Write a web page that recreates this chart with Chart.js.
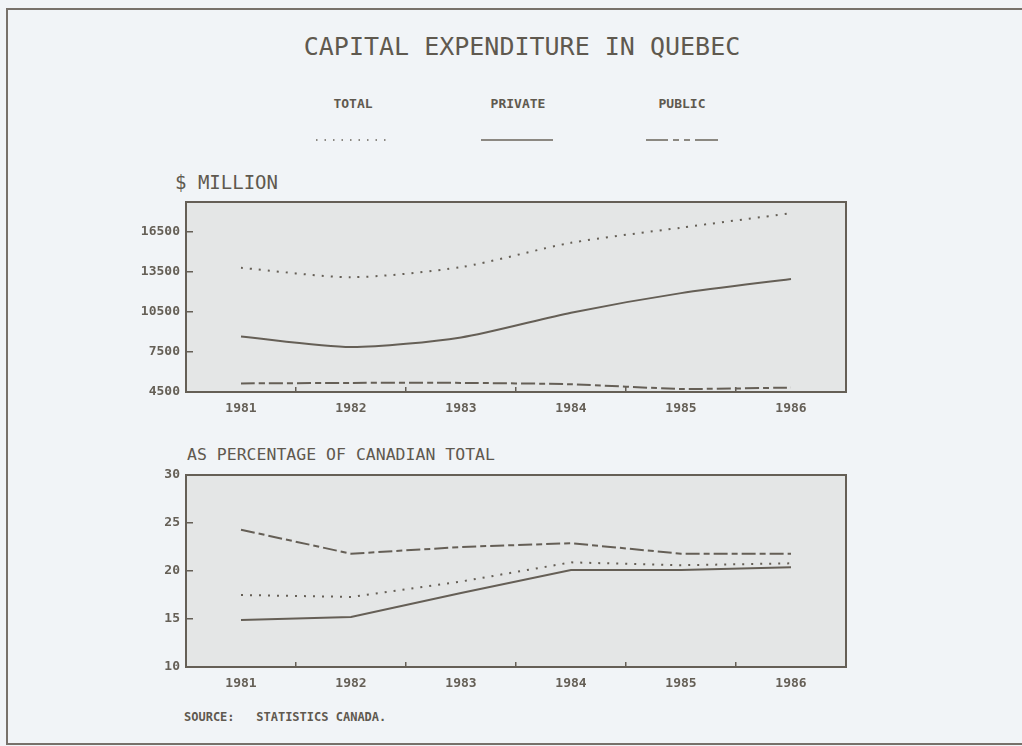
<!DOCTYPE html>
<html>
<head>
<meta charset="utf-8">
<script src="https://cdn.jsdelivr.net/npm/chart.js@4.4.1/dist/chart.umd.min.js"></script>
<style>
  html, body { margin: 0; padding: 0; }
  body {
    width: 1022px; height: 746px; position: relative; overflow: hidden;
    background: #f1f4f7; color: #5f594f;
    font-family: "DejaVu Sans Mono", "Liberation Mono", monospace;
  }
  .frame {
    position: absolute; left: 6px; top: 8px; width: 1040px; height: 733px;
    border-left: 2px solid #77716a; border-top: 2px solid #77716a; border-bottom: 2px solid #77716a;
  }
  .txt { position: absolute; white-space: pre; line-height: 1; }
  .title { left: 0; width: 1044px; top: 34px; text-align: center; font-size: 25px; }
  .leg { top: 97px; width: 120px; text-align: center; font-size: 13px; font-weight: bold; }
  .src { left: 184px; top: 711px; font-size: 12px; font-weight: bold; }
  canvas { position: absolute; left: 0; }
  svg { position: absolute; left: 0; top: 130px; }
</style>
</head>
<body>
<div class="frame"></div>
<div class="txt title">CAPITAL EXPENDITURE IN QUEBEC</div>
<div class="txt leg" style="left:293px">TOTAL</div>
<div class="txt leg" style="left:458px">PRIVATE</div>
<div class="txt leg" style="left:622px">PUBLIC</div>
<svg width="1022" height="20">
  <line x1="316" y1="10" x2="386" y2="10" stroke="#6a645b" stroke-width="1.5" stroke-dasharray="1.5 7"/>
  <line x1="481" y1="10" x2="553" y2="10" stroke="#6a645b" stroke-width="1.5"/>
  <line x1="646" y1="10" x2="718" y2="10" stroke="#6a645b" stroke-width="1.5" stroke-dasharray="22 5 6 5 6 5 23"/>
</svg>
<div class="txt" style="left:175px; top:173px; font-size:19px">$ MILLION</div>
<div class="txt" style="left:187px; top:447px; font-size:16.5px">AS PERCENTAGE OF CANADIAN TOTAL</div>
<div class="txt src">SOURCE:   STATISTICS CANADA.</div>

<canvas id="chartMillones" width="1022" height="250" style="top:170px"></canvas>
<canvas id="chartPorcentaje" width="1022" height="260" style="top:440px"></canvas>

<script>
// años y series
const years = ['1981', '1982', '1983', '1984', '1985', '1986'];

// $ millones
const totalMillions = [13780, 13080, 13830, 15650, 16780, 17860];
const privateMillions = [8640, 7860, 8580, 10430, 11890, 12950];
const publicMillions = [5140, 5180, 5180, 5080, 4730, 4830];
const millionTicks = [4500, 7500, 10500, 13500, 16500];

// % del total canadiense
const totalPct = [17.5, 17.3, 18.9, 20.9, 20.6, 20.8];
const privatePct = [14.9, 15.2, 17.7, 20.1, 20.1, 20.4];
const publicPct = [24.3, 21.8, 22.5, 22.9, 21.8, 21.8];
const pctTicks = [10, 15, 20, 25, 30];

const ink = '#655f56';
const tickFont = { family: 'DejaVu Sans Mono', size: 13, weight: 'bold' };

// fondo gris y marco del area de graficado
const cajaPlugin = {
    id: 'caja',
    beforeDraw(chart) {
        const { ctx, chartArea: a } = chart;
        ctx.save();
        ctx.fillStyle = '#e4e6e6';
        ctx.fillRect(a.left, a.top, a.right - a.left, a.bottom - a.top);
        ctx.restore();
    },
    afterDraw(chart) {
        const { ctx, chartArea: a } = chart;
        ctx.save();
        ctx.strokeStyle = ink;
        ctx.lineWidth = 2;
        ctx.strokeRect(a.left, a.top, a.right - a.left, a.bottom - a.top);
        ctx.restore();
    }
};

const linea = (label, data, dash, tension) => ({
    label,
    data,
    borderColor: ink,
    borderWidth: 2,
    borderDash: dash || [],
    pointRadius: 0,
    tension,
    fill: false
});

const crearGrafica = (id, datasets, min, max, ticks, top, xHeight) => new Chart(document.getElementById(id).getContext('2d'), {
    type: 'line',
    data: { labels: years, datasets },
    plugins: [cajaPlugin],
    options: {
        responsive: false,
        animation: false,
        layout: { padding: { top, right: 176, bottom: 0, left: 0 } },
        plugins: { legend: { display: false }, tooltip: { enabled: false } },
        scales: {
            x: {
                offset: true,
                border: { display: false },
                grid: { offset: true, drawOnChartArea: false, tickLength: -5, color: ink, lineWidth: 1.5 },
                ticks: { color: ink, font: tickFont, padding: 14, maxRotation: 0 },
                afterFit: (scale) => { scale.height = xHeight; }
            },
            y: {
                min, max,
                border: { display: false },
                grid: { drawOnChartArea: false, tickLength: -7, color: ink, lineWidth: 1.5 },
                ticks: { color: ink, font: tickFont, padding: 13, callback: (v) => String(v) },
                afterBuildTicks: (scale) => { scale.ticks = ticks.map(v => ({ value: v })); },
                afterFit: (scale) => { scale.width = 186; }
            }
        }
    }
});

crearGrafica('chartMillones', [
    linea('TOTAL', totalMillions, [2, 7], 0.25),
    linea('PRIVATE', privateMillions, null, 0.25),
    linea('PUBLIC', publicMillions, [14, 4, 6, 4], 0.2)
], 4500, 18700, millionTicks, 32, 28);

crearGrafica('chartPorcentaje', [
    linea('TOTAL', totalPct, [2, 7], 0),
    linea('PRIVATE', privatePct, null, 0),
    linea('PUBLIC', publicPct, [14, 4, 6, 4], 0)
], 10, 30, pctTicks, 35, 33);
</script>
</body>
</html>
